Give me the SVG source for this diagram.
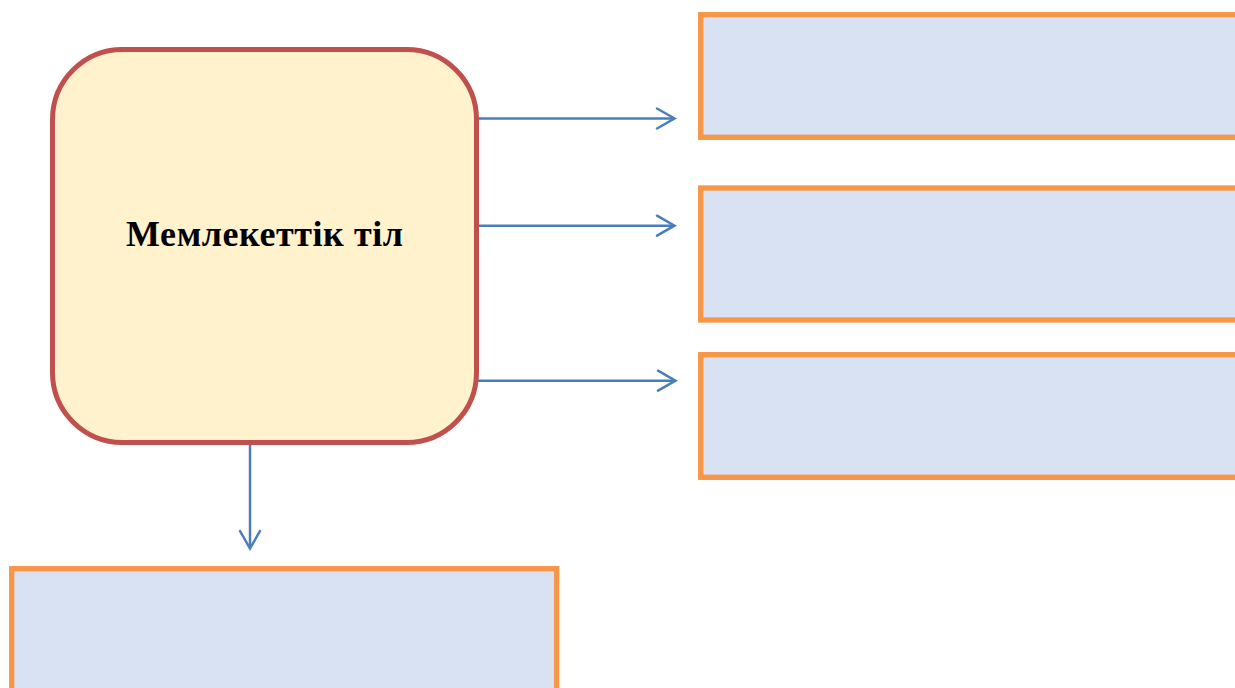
<svg xmlns="http://www.w3.org/2000/svg" width="1235" height="688" viewBox="0 0 1235 688">
<style>
.main{fill:#fff2cc;stroke:#c0504d;stroke-width:5}
.box{fill:#d9e2f3;stroke:#f79646;stroke-width:5.3}
.conn{fill:none;stroke:#4a7ebb;stroke-width:2.5}
.head{fill:none;stroke:#4a7ebb;stroke-width:2.5;stroke-linecap:round;stroke-linejoin:miter}
.lbl{font-family:'Liberation Serif','Times New Roman',serif;font-weight:700;font-size:36px;fill:#000}
</style>
<rect width="1235" height="688" fill="#ffffff"/>
<g id="connectors">
<line class="conn" x1="477" y1="118.5" x2="674" y2="118.5"/>
<polyline class="head" points="657,108.5 674.5,118.5 657,128.5"/>
<line class="conn" x1="477" y1="225.7" x2="674" y2="225.7"/>
<polyline class="head" points="657,215.7 674.5,225.7 657,235.7"/>
<line class="conn" x1="477" y1="380.7" x2="675" y2="380.7"/>
<polyline class="head" points="658,370.7 675.5,380.7 658,390.7"/>
<line class="conn" x1="250" y1="443" x2="250" y2="548"/>
<polyline class="head" points="240,531 250,548.5 260,531"/>
</g>
<g id="node-main">
<rect class="main" x="52.5" y="49.5" width="424" height="393" rx="70" ry="70"/>
<text class="lbl" x="264.5" y="246" text-anchor="middle" textLength="277" lengthAdjust="spacing">Мемлекеттік тіл</text>
</g>
<g id="node-r1">
<rect class="box" x="700.7" y="14.7" width="560" height="122.6"/>
</g>
<g id="node-r2">
<rect class="box" x="700.7" y="188" width="560" height="132"/>
</g>
<g id="node-r3">
<rect class="box" x="700.7" y="354.7" width="560" height="122.6"/>
</g>
<g id="node-bottom">
<rect class="box" x="11.7" y="568.7" width="545" height="140"/>
</g>
</svg>
